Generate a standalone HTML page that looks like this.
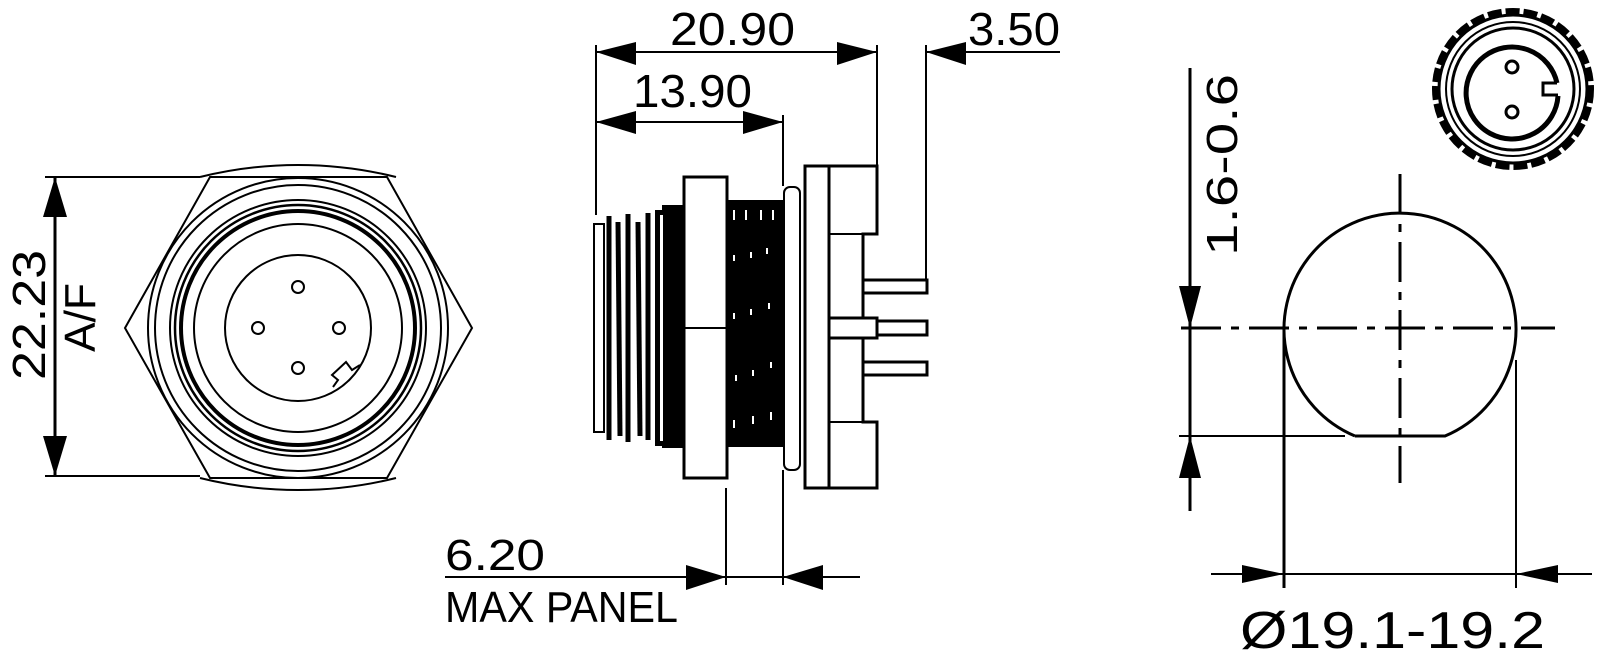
<!DOCTYPE html>
<html><head><meta charset="utf-8"><style>
html,body{margin:0;padding:0;background:#fff;}
svg{display:block;}
text{font-family:"Liberation Sans",sans-serif;fill:#000;}
</style></head><body>
<svg width="1600" height="661" viewBox="0 0 1600 661" xmlns="http://www.w3.org/2000/svg">
<g fill="none" stroke="#000" stroke-width="2">
<!-- LEFT VIEW -->
<line x1="45" y1="177" x2="200" y2="177"/>
<line x1="45" y1="476" x2="200" y2="476"/>
<line x1="55" y1="177" x2="55" y2="476" stroke-width="3"/>
<polygon points="210,177 387,177 472,328 387,478 210,478 125,328"/>
<path d="M200,177 A406,406 0 0 1 396,177"/>
<path d="M200,478 A406,406 0 0 0 396,478"/>
<circle cx="298" cy="328" r="150"/>
<circle cx="298" cy="328" r="143"/>
<circle cx="298" cy="328" r="128"/>
<circle cx="298" cy="328" r="123" stroke-width="2.5"/>
<circle cx="298" cy="328" r="117" stroke-width="4"/>
<circle cx="298" cy="328" r="104"/>
<circle cx="298" cy="328" r="73"/>
<circle cx="298" cy="287" r="6"/>
<circle cx="258" cy="328" r="6"/>
<circle cx="339" cy="328" r="6"/>
<circle cx="298" cy="368" r="6"/>
<polyline points="333,387 338,380 332,375 346,362 352,370 360,365" fill="#fff"/>
</g>
<polygon points="55,177 43,217 67,217" fill="#000"/>
<polygon points="55,476 43,436 67,436" fill="#000"/>
<text transform="translate(45,380) rotate(-90)" font-size="46" textLength="130" lengthAdjust="spacingAndGlyphs">22.23</text>
<text transform="translate(95,352) rotate(-90)" font-size="44" textLength="69" lengthAdjust="spacingAndGlyphs">A/F</text>

<!-- MIDDLE VIEW -->
<g fill="none" stroke="#000" stroke-width="2">
<line x1="596" y1="45" x2="596" y2="215"/>
<line x1="877" y1="45" x2="877" y2="166"/>
<line x1="926" y1="45" x2="926" y2="285"/>
<line x1="783" y1="115" x2="783" y2="186"/>
<line x1="596" y1="52" x2="877" y2="52"/>
<line x1="926" y1="52" x2="1060" y2="52"/>
<line x1="596" y1="122" x2="783" y2="122"/>
<line x1="726" y1="488" x2="726" y2="585"/>
<line x1="783" y1="470" x2="783" y2="585"/>
<line x1="445" y1="577" x2="860" y2="577"/>
</g>
<polygon points="596,52 636,42 636,65" fill="#000"/>
<polygon points="877,52 837,42 837,65" fill="#000"/>
<polygon points="926,52 966,42 966,65" fill="#000"/>
<polygon points="596,122 636,111 636,134" fill="#000"/>
<polygon points="783,122 743,111 743,134" fill="#000"/>
<polygon points="726,577 686,565 686,590" fill="#000"/>
<polygon points="783,577 823,565 823,590" fill="#000"/>
<!-- thread left -->
<rect x="594" y="224" width="10" height="208" fill="#fff" stroke="#000" stroke-width="2"/>
<g stroke="#000" stroke-width="5">
<line x1="609" y1="216" x2="609" y2="440"/><line x1="618" y1="222" x2="620" y2="436"/>
<line x1="628" y1="214" x2="628" y2="442"/><line x1="638" y1="222" x2="640" y2="436"/>
<line x1="648" y1="213" x2="648" y2="440"/><line x1="658" y1="218" x2="660" y2="440"/>
</g>
<rect x="662" y="205" width="22" height="243" fill="#000"/>
<rect x="655" y="210" width="8" height="236" fill="#000"/>
<rect x="660" y="215" width="3" height="226" fill="#fff"/>
<!-- nut -->
<rect x="684" y="177" width="43" height="301" fill="#fff" stroke="#000" stroke-width="3"/>
<line x1="684" y1="328" x2="727" y2="328" stroke="#000" stroke-width="2"/>
<!-- back thread -->
<rect x="727" y="200" width="56" height="247" fill="#000"/>
<g fill="#fff"><rect x="733" y="210" width="2" height="10"/><rect x="745" y="210" width="2" height="10"/><rect x="760" y="210" width="2" height="10"/><rect x="772" y="210" width="2" height="10"/>
<rect x="733" y="255" width="2" height="6"/><rect x="750" y="252" width="2" height="6"/><rect x="766" y="248" width="2" height="6"/>
<rect x="733" y="313" width="2" height="6"/><rect x="750" y="309" width="2" height="6"/><rect x="768" y="303" width="2" height="6"/>
<rect x="735" y="375" width="2" height="6"/><rect x="752" y="370" width="2" height="6"/><rect x="770" y="362" width="2" height="6"/>
<rect x="733" y="420" width="2" height="8"/><rect x="752" y="416" width="2" height="8"/><rect x="770" y="412" width="2" height="8"/></g>
<!-- washer -->
<rect x="784" y="187" width="16" height="283" rx="6" fill="#fff" stroke="#000" stroke-width="2"/>
<!-- flange -->
<rect x="805" y="166" width="24" height="322" fill="#fff" stroke="#000" stroke-width="3"/>
<polygon points="829,166 877,166 877,234 863,234 863,318 877,318 877,338 863,338 863,422 877,422 877,488 829,488" fill="#fff" stroke="#000" stroke-width="3"/>
<line x1="829" y1="234" x2="863" y2="234" stroke="#000" stroke-width="2"/>
<line x1="829" y1="422" x2="863" y2="422" stroke="#000" stroke-width="2"/>
<rect x="829" y="318" width="48" height="20" fill="#fff" stroke="#000" stroke-width="3"/>
<rect x="863" y="280" width="64" height="13" fill="#fff" stroke="#000" stroke-width="3"/>
<rect x="877" y="321" width="50" height="14" fill="#fff" stroke="#000" stroke-width="3"/>
<rect x="863" y="362" width="64" height="13" fill="#fff" stroke="#000" stroke-width="3"/>
<text x="670" y="45" font-size="46" textLength="125" lengthAdjust="spacingAndGlyphs">20.90</text>
<text x="633" y="107" font-size="46" textLength="119" lengthAdjust="spacingAndGlyphs">13.90</text>
<text x="968" y="45" font-size="46" textLength="92" lengthAdjust="spacingAndGlyphs">3.50</text>
<text x="445" y="570" font-size="44" textLength="100" lengthAdjust="spacingAndGlyphs">6.20</text>
<text x="445" y="622" font-size="44" textLength="233" lengthAdjust="spacingAndGlyphs">MAX PANEL</text>

<!-- RIGHT VIEW -->
<g fill="none" stroke="#000">
<line x1="1190" y1="68" x2="1190" y2="511" stroke-width="3"/>
<line x1="1181" y1="328" x2="1555" y2="328" stroke-width="3" stroke-dasharray="40,10,8,10"/>
<line x1="1400" y1="174" x2="1400" y2="483" stroke-width="3" stroke-dasharray="40,10,8,10"/>
<line x1="1179" y1="436" x2="1345" y2="436" stroke-width="2"/>
<path d="M1355,436 L1445,436 A116,116 0 1 0 1355,436" stroke-width="3"/>
<line x1="1284" y1="328" x2="1284" y2="588" stroke-width="3"/>
<line x1="1516" y1="360" x2="1516" y2="588" stroke-width="2"/>
<line x1="1211" y1="574" x2="1592" y2="574" stroke-width="2"/>
</g>
<polygon points="1190,328 1179,286 1201,286" fill="#000"/>
<polygon points="1190,436 1179,478 1201,478" fill="#000"/>
<polygon points="1284,574 1242,565 1242,583" fill="#000"/>
<polygon points="1516,574 1558,565 1558,583" fill="#000"/>
<text transform="translate(1237,256) rotate(-90)" font-size="44" textLength="182" lengthAdjust="spacingAndGlyphs">1.6-0.6</text>
<text x="1240" y="648" font-size="52" textLength="305" lengthAdjust="spacingAndGlyphs">Ø19.1-19.2</text>

<!-- icon -->
<g fill="none" stroke="#000">
<circle cx="1513" cy="89" r="78" stroke-width="6" stroke-dasharray="14,4"/>
<circle cx="1513" cy="89" r="74" stroke-width="3"/>
<circle cx="1513" cy="89" r="67" stroke-width="2"/>
<circle cx="1513" cy="89" r="61" stroke-width="3"/>
<path d="M1557,83 A46,46 0 1 0 1558,96" stroke-width="5"/>
<polyline points="1557,83 1543,83 1543,95 1558,95" stroke-width="3"/>
<circle cx="1512" cy="67" r="6" stroke-width="3"/>
<circle cx="1512" cy="112" r="6" stroke-width="3"/>
</g>
</svg>
</body></html>
